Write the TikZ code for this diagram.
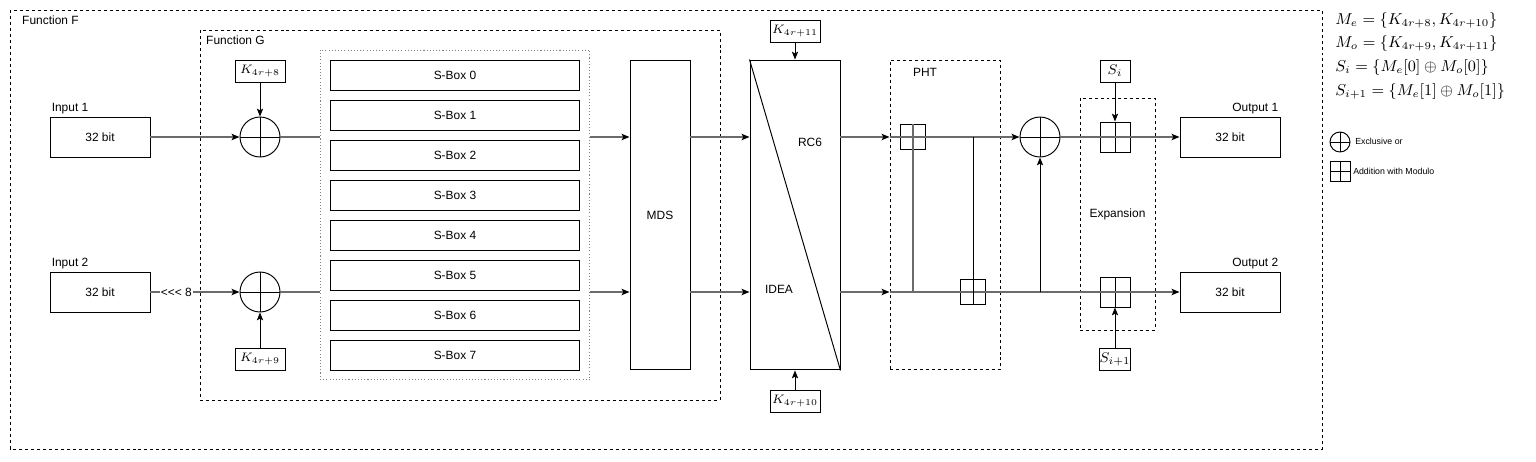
\documentclass[tikz,border=0pt]{standalone}
\usepackage{fontspec}
\setmainfont{Liberation Sans}
\usepackage{amsmath}
\usepackage{xcolor}
\usetikzlibrary{arrows.meta,positioning,calc}
\colorlet{flowgray}{black!58}

\tikzset{
    frame/.style={draw, dash pattern=on 1.7pt off 1.7pt, line width=0.55pt},
    blk/.style={draw, line width=0.55pt, minimum width=2cm, minimum height=0.8cm, inner sep=0pt},
    sbox/.style={draw, line width=0.55pt, minimum width=5cm, minimum height=0.6cm, inner sep=0pt},
    keybox/.style={draw, line width=0.55pt, minimum width=1cm, minimum height=0.44cm, inner sep=0pt, font=\fontsize{7}{8}\selectfont},
    sbx/.style={draw, line width=0.55pt, minimum width=0.6cm, minimum height=0.44cm, inner sep=0pt, font=\fontsize{8}{9}\selectfont},
    cross/.style={path picture={
        \draw (path picture bounding box.north) -- (path picture bounding box.south)
              (path picture bounding box.west) -- (path picture bounding box.east);}},
    xor/.style={draw, circle, line width=0.55pt, minimum size=0.8cm, inner sep=0pt, cross},
    addbox/.style={draw, line width=0.55pt, minimum size=0.49cm, inner sep=0pt},
    addx/.style={draw, line width=0.55pt, minimum size=0.6cm, inner sep=0pt, cross},
    lbl/.style={inner sep=1pt},
    flow/.style={draw=flowgray, line width=0.8pt},
    tip/.style={-{Stealth[length=4.5pt,width=3.6pt,inset=1pt,color=black]}},
}

\begin{document}
\begin{tikzpicture}[x=0.02cm, y=-0.02cm, line width=0.55pt,
    every node/.style={font=\fontsize{6.8}{8}\selectfont}]
    \useasboundingbox (0,0) rectangle (1536,461);
    % function F and function G
    \draw[frame] (10,10) rectangle (1322,449);
    \node[lbl, anchor=west] (labelF) at (20,20) {Function F};
    \draw[frame] (200,30) rectangle (720,400);
    \node[lbl, anchor=west] (labelG) at (204,40) {Function G};
    % inputs
    \node[blk] (in1) at (100,137) {32 bit};
    \node[lbl, anchor=south west] (in1-label) at (in1.north west) {Input 1};
    \node[blk] (in2) at (100,292) {32 bit};
    \node[lbl, anchor=south west] (in2-label) at (in2.north west) {Input 2};
    % key xor
    \node[xor] (xor1) at (260,137) {};
    \node[xor] (xor2) at (260,292) {};
    \node[keybox] (k8) at (260,71) {\(K_{4r+8}\)};
    \node[keybox] (k9) at (260,359) {\(K_{4r+9}\)};
    % s-boxes
    \node[draw=gray, dash pattern=on 0.6pt off 1.2pt, minimum width=5.4cm, minimum height=6.6cm] (sboxes) at (455,215) {};
    \foreach \i in {0,...,7}
        \node[sbox] (sbox\i) at (455,75+40*\i) {S-Box \i};
    % mds
    \node[draw, minimum width=1.2cm, minimum height=6.2cm] (mds) at (660,215) {MDS};
    % rc6 / idea
    \node[draw, minimum width=1.8cm, minimum height=6.2cm] (mix) at (795,215) {};
    \draw (mix.north west) -- (mix.south east);
    \node (rc6) at (810,142) {RC6};
    \node (idea) at (779,289) {IDEA};
    \node[keybox] (k11) at (795,31) {\(K_{4r+11}\)};
    \node[keybox] (k10) at (795,401) {\(K_{4r+10}\)};
    % pht
    \node[frame, minimum width=2.2cm, minimum height=6.2cm] (pht) at (945,215) {};
    \node (pht-label) at (925,72) {PHT};
    \node[addbox] (add1) at (913,137) {};
    \node[addbox] (add2) at (973,292) {};
    \node[xor] (xor3) at (1040,137) {};
    % expansion
    \node[frame, minimum width=1.5cm, minimum height=4.64cm] (exp) at (1117.5,214) {Expansion};
    \node[addx] (add3) at (1115,137) {};
    \node[addx] (add4) at (1115,292) {};
    \node[sbx] (si) at (1115,71) {\(S_i\)};
    \node[sbx] (si1) at (1115,359) {\(S_{i+1}\)};
    % outputs
    \node[blk] (out1) at (1230,137) {32 bit};
    \node[lbl, anchor=south east] (out1-label) at (out1.north east) {Output 1};
    \node[blk] (out2) at (1230,292) {32 bit};
    \node[lbl, anchor=south east] (out2-label) at (out2.north east) {Output 2};
    % upper line
    \draw[flow, tip] (in1) -- (xor1);
    \draw[flow] (xor1) -- (xor1 -| sboxes.west);
    \draw[flow, tip] (xor1 -| sboxes.east) -- (xor1 -| mds.west);
    \draw[flow, tip] (xor1 -| mds.east) -- (xor1 -| mix.west);
    \draw[flow, tip] (xor1 -| mix.east) -- (xor1 -| pht.west);
    \draw[flow, tip] (xor1 -| pht.west) -- (xor3);
    \draw[flow, tip] (xor3) -- (out1);
    % lower line
    \draw[flow, tip] (in2) -- node[pos=0.29, fill=white, inner sep=0.6pt] (rot8) {{<}{<}{<} 8} (xor2);
    \draw[flow] (xor2) -- (xor2 -| sboxes.west);
    \draw[flow, tip] (xor2 -| sboxes.east) -- (xor2 -| mds.west);
    \draw[flow, tip] (xor2 -| mds.east) -- (xor2 -| mix.west);
    \draw[flow, tip] (xor2 -| mix.east) -- (xor2 -| pht.west);
    \draw[flow, tip] (xor2 -| pht.west) -- (out2);
    % pht cross lines
    \draw[flow] (add1.north) -- (add1 |- out2);
    \draw (add2 |- out1) -- (add2.south);
    \draw[tip] (xor3 |- out2) -- (xor3);
    % keys
    \draw[tip] (k8) -- (xor1);
    \draw[tip] (k9) -- (xor2);
    \draw[tip] (k11) -- (k11 |- mix.north);
    \draw[tip] (k10) -- (k10 |- mix.south);
    \draw[tip] (si) -- (add3);
    \draw[tip] (si1) -- (add4);
    % formulas
    \node[lbl, anchor=west, font=\fontsize{9}{10}\selectfont] (me) at (1333,21) {\(M_e = \{K_{4r+8}, K_{4r+10}\}\)};
    \node[lbl, anchor=west, font=\fontsize{9}{10}\selectfont] (mo) at (1333,44) {\(M_o = \{K_{4r+9}, K_{4r+11}\}\)};
    \node[lbl, anchor=west, font=\fontsize{9}{10}\selectfont] (s0) at (1333,68) {\(S_i = \{M_e[0] \oplus M_o[0]\}\)};
    \node[lbl, anchor=west, font=\fontsize{9}{10}\selectfont] (s1) at (1333,92) {\(S_{i+1} = \{M_e[1] \oplus M_o[1]\}\)};
    % legend
    \node[xor, minimum size=0.4cm] (leg-xor) at (1340,142) {};
    \node[lbl, anchor=west, font=\fontsize{5}{6}\selectfont] (leg-xor-text) at (1353,141) {Exclusive or};
    \node[addx, minimum size=0.4cm] (leg-add) at (1340,171) {};
    \node[lbl, anchor=west, font=\fontsize{5}{6}\selectfont] (leg-add-text) at (1351,171) {Addition with Modulo};
\end{tikzpicture}
\end{document}
